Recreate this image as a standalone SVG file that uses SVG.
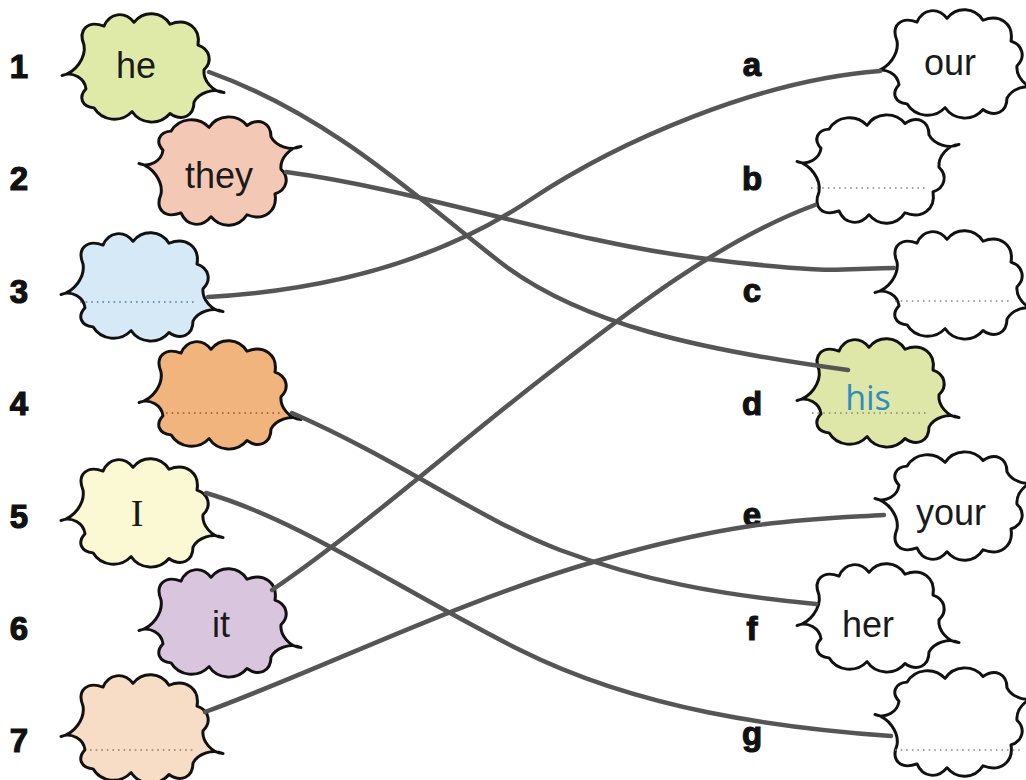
<svg xmlns="http://www.w3.org/2000/svg" width="1026" height="780" viewBox="0 0 1026 780">
  <style>
    .blob { stroke: #111; stroke-width: 3; stroke-linejoin: round; }
    .num { font-family: "Liberation Sans", Arial, sans-serif; font-weight: bold; font-size: 33px; fill: #111; stroke: #111; stroke-width: 1.2; text-anchor: middle; }
    .word { font-family: "Liberation Sans", Arial, sans-serif; font-size: 36px; fill: #1a1a1a; text-anchor: middle; }
    .answer { font-family: "Open Sans", "Liberation Sans", sans-serif; font-size: 34px; fill: #2a8cc4; text-anchor: middle; }
    .dots { stroke-width: 1.6; stroke-dasharray: 1.6 4; fill: none; }
    .link { fill: none; stroke: #555; stroke-width: 4.5; stroke-linecap: round; }
  </style>
  <defs>
    <!-- splat outline centred on 0,0: rounded lobes, pointed at left and lower right -->
    <path id="cloud" d="M-80,10 C-66.8,7.3 -55.8,-8.7 -58,-22 C-64.3,-38.3 -54.3,-48.3 -38,-42 C-32.3,-56.2 -17.3,-58.2 -8,-46 C1.7,-58.8 19.7,-57.8 28,-44 C44.9,-51.1 58.9,-40.1 56,-22 C67.9,-17.9 70.9,-4.9 62,4 C60.8,15.1 70.8,27.1 82,28 C72,22.9 57,27.9 52,38 C52,52.9 40,58.9 28,50 C17.8,62.8 -1.2,61.8 -10,48 C-20.9,60.2 -39.9,58.2 -48,44 C-60,43 -64,33 -56,24 C-57.3,12.5 -69.3,5.5 -80,10 Z"/>
  </defs>

  <rect width="1026" height="780" fill="#ffffff"/>

  <!-- left column -->
  <g id="n1">
    <text class="num" x="19" y="78">1</text>
    <use href="#cloud" class="blob" fill="#e0eaa8" transform="translate(142,66) scale(1,0.95)"/>
    <text class="word" x="136" y="78">he</text>
  </g>
  <g id="n2">
    <text class="num" x="19" y="190">2</text>
    <use href="#cloud" class="blob" fill="#f3c8b4" transform="translate(219,173) scale(1,-0.95)"/>
    <text class="word" x="219" y="188">they</text>
  </g>
  <g id="n3">
    <text class="num" x="19" y="303">3</text>
    <use href="#cloud" class="blob" fill="#d6e9f6" transform="translate(141,285) scale(1,0.95)"/>
    <line class="dots" x1="80" y1="302" x2="194" y2="302" stroke="#4f7ea3"/>
  </g>
  <g id="n4">
    <text class="num" x="19" y="415">4</text>
    <use href="#cloud" class="blob" fill="#f1b47c" transform="translate(219,393) scale(1,0.95)"/>
    <line class="dots" x1="166" y1="413" x2="281" y2="413" stroke="#8a5a2e"/>
  </g>
  <g id="n5">
    <text class="num" x="19" y="528">5</text>
    <use href="#cloud" class="blob" fill="#fbf8d4" transform="translate(141,511) scale(1,0.95)"/>
    <text x="137" y="526" font-family="Liberation Serif, serif" font-size="38" fill="#1a1a1a" text-anchor="middle">I</text>
  </g>
  <g id="n6">
    <text class="num" x="19" y="640">6</text>
    <use href="#cloud" class="blob" fill="#dac5de" transform="translate(219,621) scale(1,0.95)"/>
    <text class="word" x="221" y="637">it</text>
  </g>
  <g id="n7">
    <text class="num" x="19" y="752">7</text>
    <use href="#cloud" class="blob" fill="#f8ddc6" transform="translate(141,727) scale(1,0.95)"/>
    <line class="dots" x1="90" y1="750" x2="194" y2="750" stroke="#9a7a5a"/>
  </g>

  <!-- right column -->
  <g id="na">
    <text class="num" x="752" y="76">a</text>
    <use href="#cloud" class="blob" fill="#ffffff" transform="translate(955,62) scale(1,0.95)"/>
    <text class="word" x="950" y="75">our</text>
  </g>
  <g id="nb">
    <text class="num" x="752" y="190">b</text>
    <use href="#cloud" class="blob" fill="#ffffff" transform="translate(877,171) scale(1,-0.95)"/>
    <line class="dots" x1="811" y1="188" x2="926" y2="188" stroke="#8a8a8a"/>
  </g>
  <g id="nc">
    <text class="num" x="752" y="302">c</text>
    <use href="#cloud" class="blob" fill="#ffffff" transform="translate(955,283) scale(1,0.95)"/>
    <line class="dots" x1="895" y1="301" x2="1010" y2="301" stroke="#8a8a8a"/>
  </g>
  <g id="nd">
    <text class="num" x="752" y="415">d</text>
    <use href="#cloud" class="blob" fill="#dee7a8" transform="translate(877,391) scale(1,0.95)"/>
    <line class="dots" x1="812" y1="413" x2="926" y2="413" stroke="#8a8a6a"/>
    <text class="answer" x="868" y="410">his</text>
  </g>
  <g id="ne">
    <text class="num" x="752" y="526">e</text>
    <use href="#cloud" class="blob" fill="#ffffff" transform="translate(955,508) scale(1,-0.95)"/>
    <text class="word" x="951" y="525">your</text>
  </g>
  <g id="nf">
    <text class="num" x="752" y="640">f</text>
    <use href="#cloud" class="blob" fill="#ffffff" transform="translate(877,616) scale(1,0.95)"/>
    <text class="word" x="868" y="637">her</text>
  </g>
  <g id="ng">
    <text class="num" x="752" y="745">g</text>
    <use href="#cloud" class="blob" fill="#ffffff" transform="translate(955,724) scale(1,-0.95)"/>
    <line class="dots" x1="895" y1="750" x2="1020" y2="750" stroke="#8a8a8a"/>
  </g>

  <!-- matching lines -->
  <g id="connectors">
    <path class="link" d="M209,72 C330,115 420,200 500,262 S700,350 848,370"/>
    <path class="link" d="M286,172 C420,190 560,240 700,258 S850,268 894,268"/>
    <path class="link" d="M208,297 C330,290 440,260 530,200 S760,80 880,71"/>
    <path class="link" d="M292,413 C400,460 480,520 560,550 S720,595 816,604"/>
    <path class="link" d="M206,493 C300,520 400,590 520,650 S780,728 891,736"/>
    <path class="link" d="M272,590 C360,530 450,450 540,380 S720,240 815,205"/>
    <path class="link" d="M205,712 C320,670 460,600 600,560 S800,520 884,515"/>
  </g>
</svg>
